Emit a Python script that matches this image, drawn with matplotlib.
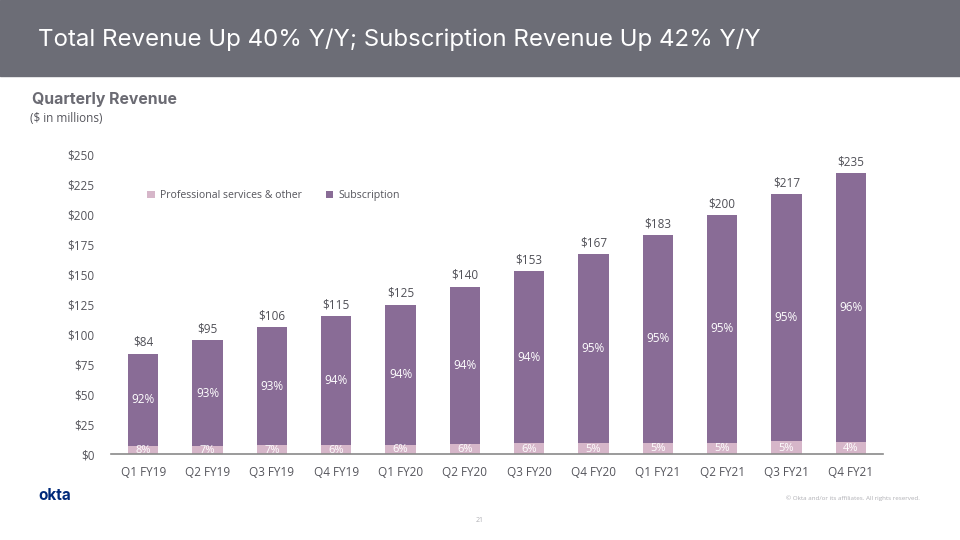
import matplotlib.pyplot as plt
import numpy as np

quarters = ["Q1 FY19", "Q2 FY19", "Q3 FY19", "Q4 FY19", "Q1 FY20", "Q2 FY20",
            "Q3 FY20", "Q4 FY20", "Q1 FY21", "Q2 FY21", "Q3 FY21", "Q4 FY21"]
total = [84, 95, 106, 115, 125, 140, 153, 167, 183, 200, 217, 235]
prof_services = [6.7, 6.9, 7.6, 7.2, 7.8, 8.4, 9.0, 9.1, 9.5, 9.4, 11.0, 10.1]
sub_pct = ["92%", "93%", "93%", "94%", "94%", "94%", "94%", "95%", "95%", "95%", "95%", "96%"]
prof_pct = ["8%", "7%", "7%", "6%", "6%", "6%", "6%", "5%", "5%", "5%", "5%", "4%"]
yticks = [0, 25, 50, 75, 100, 125, 150, 175, 200, 225, 250]

subscription = [t - p for t, p in zip(total, prof_services)]

PURPLE = "#896c96"
PINK = "#d6b6c9"
GRAY = "#55555c"

plt.rcParams['font.family'] = ['Open Sans', 'DejaVu Sans']

fig = plt.figure(figsize=(9.6, 5.4), dpi=100)

# header band
fig.patches.append(plt.Rectangle((0, 1 - 76 / 540), 1, 76 / 540, transform=fig.transFigure,
                                 color="#6c6d76", zorder=0))
fig.text(38 / 960, 1 - 40 / 540, "Total Revenue Up 40% Y/Y; Subscription Revenue Up 42% Y/Y",
         color="white", fontsize=17.3, va="center", ha="left", family=["Inter", "DejaVu Sans"])
fig.text(32 / 960, 1 - 100 / 540, "Quarterly Revenue", color="#6b6b73", fontsize=11.4,
         fontweight="bold", va="center", family=["Inter", "DejaVu Sans"])
fig.text(30 / 960, 1 - 118 / 540, "($ in millions)", color="#55555c", fontsize=8.5, va="center")

ax = fig.add_axes([111 / 960, 86 / 540, 772 / 960, 299 / 540])
x = np.arange(len(quarters))
w = 0.47
ax.bar(x, prof_services, width=w, color=PINK, label="Professional services & other", zorder=2)
ax.bar(x, subscription, width=w, bottom=prof_services, color=PURPLE, label="Subscription", zorder=2)

for i in range(len(x)):
    ax.text(x[i], total[i] + 4, "$%d" % total[i], ha="center", va="bottom", fontsize=8.5,
            color="#505057", clip_on=False)
    ax.text(x[i], prof_services[i] + subscription[i] / 2, sub_pct[i], ha="center", va="center",
            fontsize=8.5, color="white")
    ax.text(x[i], prof_services[i] / 2 - 0.5, prof_pct[i], ha="center", va="center",
            fontsize=8, color="white")

ax.set_xlim(-0.5, len(x) - 0.5)
ax.set_ylim(0, 250)
ax.set_yticks(yticks)
ax.set_yticklabels(["$%d" % v for v in yticks])
ax.set_xticks(x)
ax.set_xticklabels(quarters)
ax.tick_params(axis="both", length=0, labelsize=8.5, colors=GRAY)
ax.tick_params(axis="y", pad=12)
ax.tick_params(axis="x", pad=9)
for s in ["top", "right", "left"]:
    ax.spines[s].set_visible(False)
ax.spines["bottom"].set_color("#8a8a8a")
ax.spines["bottom"].set_linewidth(1.2)

ax.legend(loc="upper left", bbox_to_anchor=(142 / 960, 1 - 185 / 540), bbox_transform=fig.transFigure,
          ncol=2, frameon=False, fontsize=7.6, handlelength=0.7, handleheight=0.7,
          handletextpad=0.5, columnspacing=2.3, labelcolor=GRAY, borderpad=0)

fig.text(38 / 960, 1 - 496 / 540, "okta", color="#00297a", fontsize=11, fontweight="bold",
         va="center", family=["Inter", "DejaVu Sans"])
fig.text(920 / 960, 1 - 498 / 540, "© Okta and/or its affiliates. All rights reserved.",
         color="#b0b0b5", fontsize=4.5, ha="right", va="center")
fig.text(480 / 960, 1 - 520 / 540, "21", color="#b0b0b5", fontsize=5, ha="center", va="center")

fig.savefig("out.png", dpi=100)
